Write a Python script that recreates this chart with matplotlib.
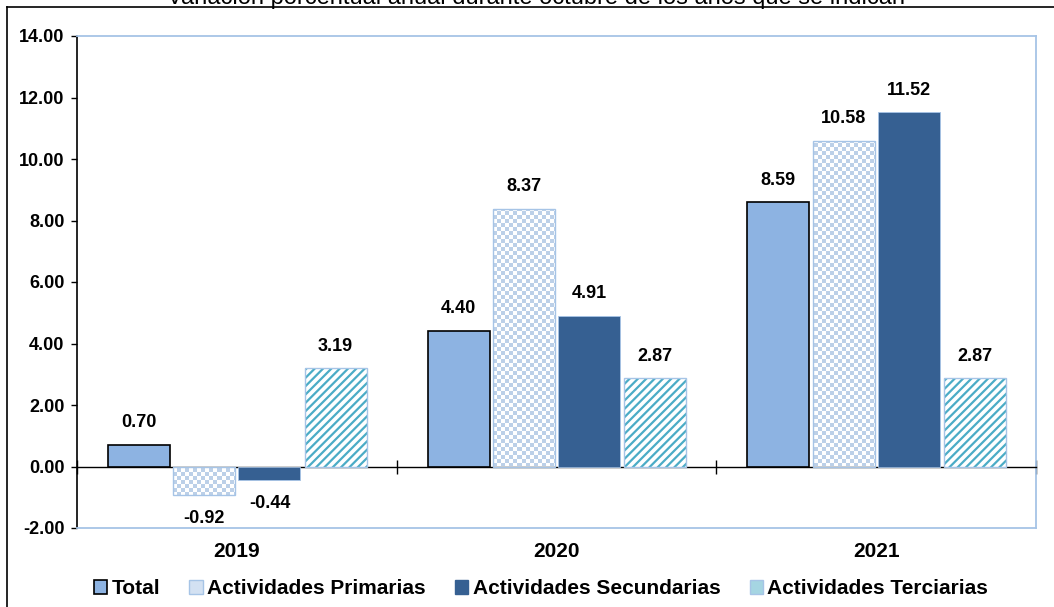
import numpy as np
import matplotlib
matplotlib.use("Agg")
import matplotlib.pyplot as plt
from matplotlib.patches import Patch
from matplotlib.lines import Line2D

plt.rcParams["font.family"] = ["Liberation Sans", "DejaVu Sans"]
plt.rcParams["hatch.linewidth"] = 1.6

# data
years = ["2019", "2020", "2021"]
series = ["Total", "Actividades Primarias", "Actividades Secundarias", "Actividades Terciarias"]
total = [0.70, 4.40, 8.59]
primarias = [-0.92, 8.37, 10.58]
secundarias = [-0.44, 4.91, 11.52]
terciarias = [3.19, 2.87, 2.87]
yticks = [-2, 0, 2, 4, 6, 8, 10, 12, 14]
title = "Variación porcentual anual durante octubre de los años que se indican"

light_blue = "#8DB3E2"
dark_blue = "#366092"
check_blue = "#BCD0E8"
teal = "#4BACC6"
edge_blue = "#A6C4E6"

fig = plt.figure(figsize=(10.54, 6.07), dpi=100)
ax = fig.add_axes([77 / 1054, 1 - 528 / 607, 959 / 1054, 492 / 607])

x = np.arange(len(years))
w = 0.194
offs = [-0.306, -0.102, 0.102, 0.309]

# checkerboard texture for primarias
ncols, nrows = 959, 492
rr, cc = np.mgrid[0:nrows, 0:ncols]
checker = (((rr // 4) + (cc // 4)) % 2).astype(float)
cmap_check = matplotlib.colors.ListedColormap(["white", check_blue])

# total
ax.bar(x + offs[0], total, w, color=light_blue, edgecolor="black", linewidth=1.2, zorder=3)

# primarias: checkerboard clipped to bars
b_pri = ax.bar(x + offs[1], primarias, w, facecolor="none", edgecolor=edge_blue, linewidth=1, zorder=4)
for p in b_pri:
    im = ax.imshow(checker, cmap=cmap_check, extent=(0, 1, 0, 1), transform=ax.transAxes,
                   interpolation="nearest", aspect="auto", zorder=3)
    im.set_clip_path(p)

# secundarias
ax.bar(x + offs[2], secundarias, w, color=dark_blue, edgecolor=edge_blue, linewidth=0.6, zorder=3)

# terciarias: diagonal stripes
ax.bar(x + offs[3], terciarias, w, facecolor="white", edgecolor=teal, linewidth=0, hatch="////", zorder=3)
ax.bar(x + offs[3], terciarias, w, facecolor="none", edgecolor=edge_blue, linewidth=1, zorder=4)

# value labels
for vals, off in zip([total, primarias, secundarias, terciarias], offs):
    for xi, v in zip(x, vals):
        ax.annotate(f"{v:.2f}", (xi + off, v), xytext=(0, 16 if v >= 0 else -17),
                    textcoords="offset points", ha="center", va="center",
                    fontsize=13, fontweight="bold")

ax.set_xlim(-0.5, 2.5)
ax.set_ylim(-2, 14)
ax.set_yticks(yticks)
ax.set_yticklabels([f"{t:.2f}" for t in yticks], fontsize=13, fontweight="bold")
ax.tick_params(axis="y", direction="out", length=4, width=1, pad=5)

ax.spines["left"].set_color("black")
ax.spines["left"].set_linewidth(1.2)
for s in ["top", "right"]:
    ax.spines[s].set_color(edge_blue)
    ax.spines[s].set_linewidth(1.3)
ax.spines["bottom"].set_position(("data", 0))
ax.spines["bottom"].set_color("black")
ax.spines["bottom"].set_linewidth(1)
ax.set_xticks([-0.5, 0.5, 1.5, 2.5])
ax.set_xticklabels(["", "", "", ""])
ax.tick_params(axis="x", direction="inout", length=10, width=1)
ax.plot([0, 1], [0, 0], transform=ax.transAxes, color=edge_blue, lw=1.3, clip_on=False, zorder=5)

for xi, yr in zip(x, years):
    ax.annotate(yr, (xi, -2), xytext=(0, -17), textcoords="offset points",
                ha="center", va="center", fontsize=15, fontweight="bold", annotation_clip=False)

# legend
handles = [
    Patch(facecolor=light_blue, edgecolor="black", linewidth=1.2),
    Patch(facecolor="#D3E1F2", edgecolor=edge_blue, linewidth=1),
    Patch(facecolor=dark_blue, edgecolor=dark_blue),
    Patch(facecolor="#A5D5E2", edgecolor=edge_blue, linewidth=1),
]
fig.legend(handles, series, loc="center", bbox_to_anchor=(541 / 1054, 1 - 589 / 607), ncol=4,
           frameon=False, handlelength=0.65, handleheight=0.65, handletextpad=0.2,
           columnspacing=1.4, prop={"size": 15, "weight": "bold"})

# title (clipped at top) and outer frame
fig.text(536 / 1054, 1 - 4 / 607, title, ha="center", va="baseline", fontsize=17)
fig.add_artist(Line2D([7 / 1054, 7 / 1054], [0, 1 - 7 / 607], color="black", lw=1.2))
fig.add_artist(Line2D([7 / 1054, 1], [1 - 7 / 607, 1 - 7 / 607], color="black", lw=1.2))

fig.savefig("out.png", dpi=100)
